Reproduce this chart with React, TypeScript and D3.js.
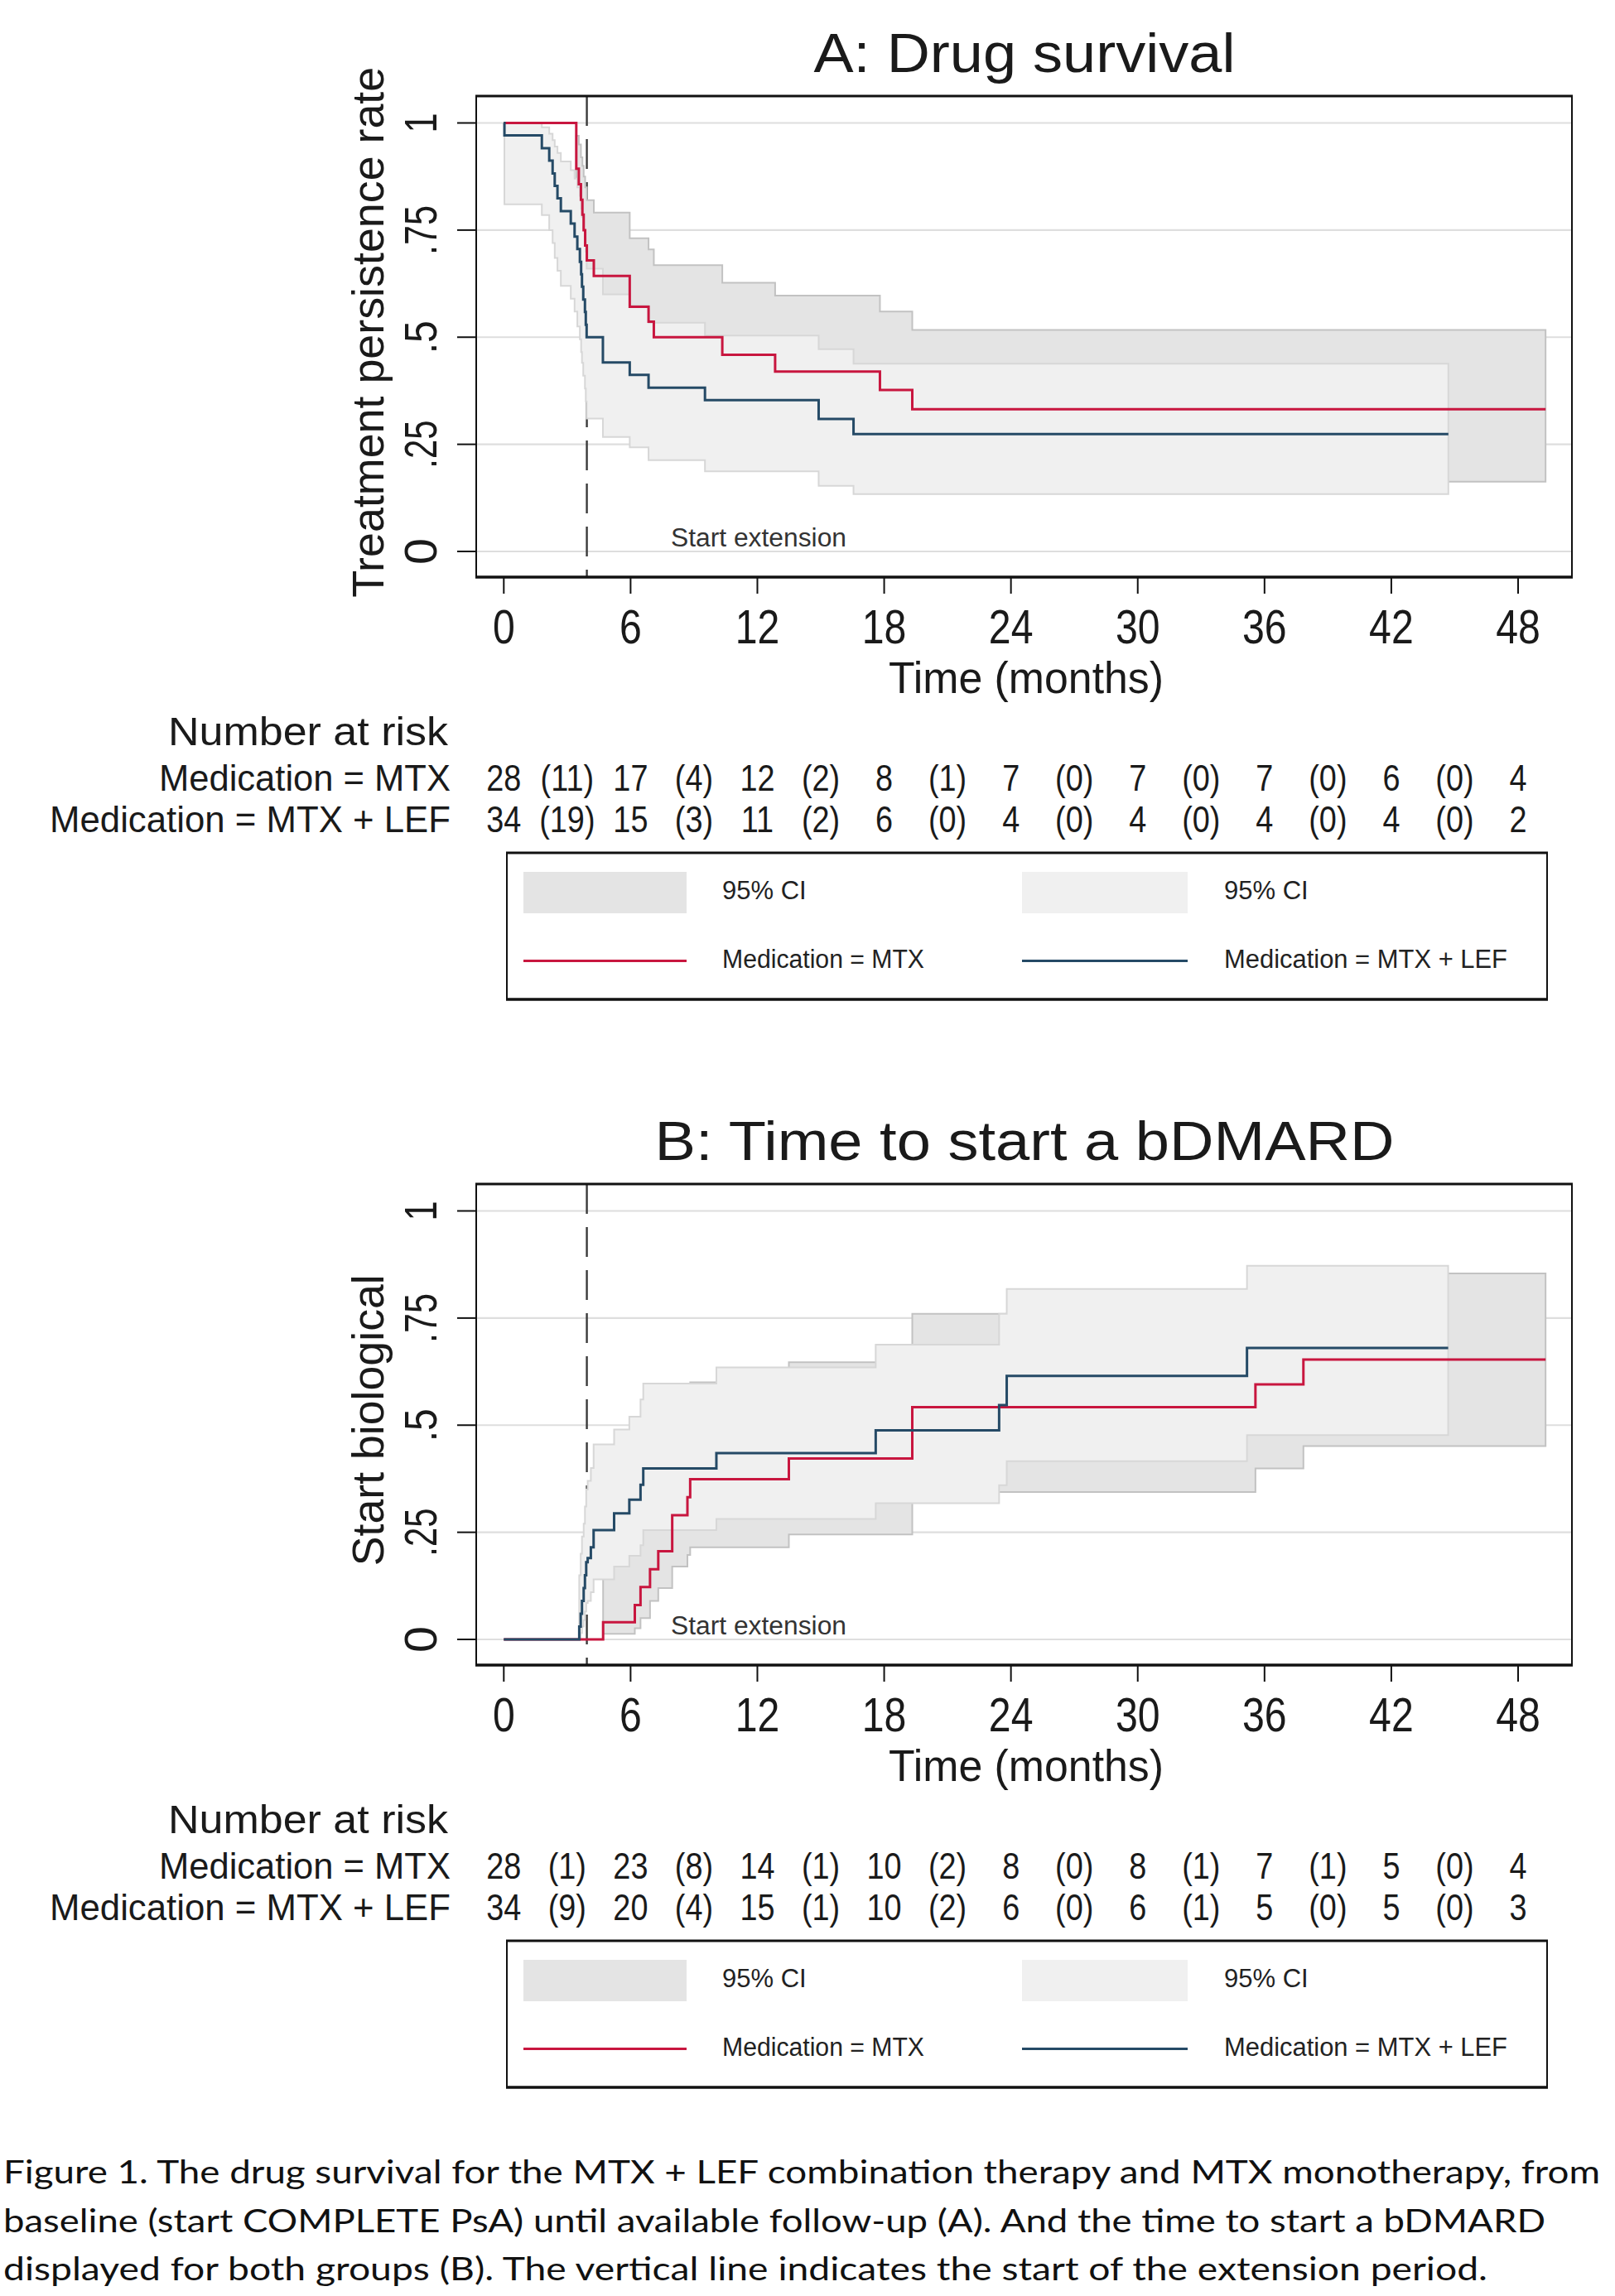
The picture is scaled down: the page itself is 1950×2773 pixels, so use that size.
import React from 'react';
import * as d3 from 'd3';

// ---------- shared axis data ----------
const TICKS_X = [0, 6, 12, 18, 24, 30, 36, 42, 48];
const TICKS_Y = [0, 0.25, 0.5, 0.75, 1];
const TICK_Y_LABELS = ['0', '.25', '.5', '.75', '1'];
const EXT_MONTH = 3.93;

// ---------- Panel A: drug survival (KM) ----------
const aMtxT = [0, 3.43, 3.55, 3.65, 3.72, 3.78, 3.85, 3.93, 4.26, 5.96, 6.85, 7.1, 10.34, 12.84, 17.8, 19.33, 49.3];
const aMtxS = [1, 0.893, 0.857, 0.821, 0.786, 0.75, 0.714, 0.679, 0.643, 0.571, 0.536, 0.5, 0.459, 0.42, 0.377, 0.332, 0.332];
const aMtxCiT = [3.43, 3.55, 3.65, 3.72, 3.78, 3.85, 3.93, 4.26, 5.96, 6.85, 7.1, 10.34, 12.84, 17.8, 19.33, 49.3];
const aMtxLo = [0.70, 0.66, 0.62, 0.58, 0.55, 0.51, 0.48, 0.44, 0.37, 0.34, 0.31, 0.27, 0.235, 0.20, 0.163, 0.163];
const aMtxHi = [0.97, 0.95, 0.92, 0.90, 0.875, 0.85, 0.82, 0.791, 0.731, 0.705, 0.668, 0.627, 0.597, 0.56, 0.517, 0.517];

const aLefT = [0, 0.03, 1.8, 2.15, 2.31, 2.41, 2.54, 2.7, 3.17, 3.35, 3.48, 3.6, 3.66, 3.7, 3.76, 3.84, 3.88, 3.92, 4.69, 5.96, 6.85, 9.52, 14.9, 16.55, 44.7];
const aLefS = [1, 0.971, 0.941, 0.912, 0.882, 0.853, 0.824, 0.794, 0.765, 0.735, 0.706, 0.676, 0.647, 0.618, 0.588, 0.559, 0.529, 0.5, 0.441, 0.412, 0.382, 0.353, 0.309, 0.274, 0.274];
const aLefCiT = [0.03, 1.8, 2.15, 2.31, 2.41, 2.54, 2.7, 3.17, 3.35, 3.48, 3.6, 3.66, 3.7, 3.76, 3.84, 3.88, 3.92, 4.69, 5.96, 6.85, 9.52, 14.9, 16.55, 44.7];
const aLefLo = [0.81, 0.785, 0.75, 0.72, 0.685, 0.655, 0.62, 0.59, 0.56, 0.525, 0.495, 0.465, 0.44, 0.41, 0.38, 0.35, 0.31, 0.267, 0.243, 0.213, 0.187, 0.153, 0.134, 0.134];
const aLefHi = [1.0, 0.99, 0.975, 0.96, 0.945, 0.93, 0.91, 0.89, 0.87, 0.85, 0.83, 0.80, 0.78, 0.75, 0.73, 0.70, 0.66, 0.60, 0.575, 0.534, 0.504, 0.472, 0.438, 0.438];

// ---------- Panel B: time to start a bDMARD (cumulative) ----------
const bMtxT = [0, 4.7, 6.2, 6.47, 6.92, 7.31, 7.97, 8.69, 8.82, 13.49, 19.33, 35.57, 37.84, 49.3];
const bMtxS = [0, 0.04, 0.08, 0.122, 0.164, 0.206, 0.29, 0.332, 0.374, 0.422, 0.542, 0.595, 0.653, 0.653];
const bMtxCiT = [4.7, 6.2, 6.47, 6.92, 7.31, 7.97, 8.69, 8.82, 13.49, 19.33, 35.57, 37.84, 49.3];
const bMtxLo = [0.013, 0.026, 0.05, 0.09, 0.12, 0.17, 0.197, 0.215, 0.245, 0.344, 0.399, 0.451, 0.451];
const bMtxHi = [0.22, 0.26, 0.30, 0.34, 0.38, 0.47, 0.52, 0.60, 0.647, 0.76, 0.80, 0.854, 0.854];

const bLefT = [0, 3.57, 3.64, 3.7, 3.78, 3.84, 3.9, 3.97, 4.12, 4.25, 5.22, 5.94, 6.47, 6.6, 10.06, 17.6, 23.44, 23.8, 35.17, 44.69];
const bLefS = [0, 0.03, 0.06, 0.09, 0.12, 0.15, 0.18, 0.19, 0.215, 0.255, 0.294, 0.326, 0.361, 0.399, 0.435, 0.488, 0.547, 0.615, 0.68, 0.68];
const bLefCiT = [3.57, 3.64, 3.7, 3.78, 3.84, 3.9, 3.97, 4.12, 4.25, 5.22, 5.94, 6.47, 6.6, 10.06, 17.6, 23.44, 23.8, 35.17, 44.69];
const bLefLo = [0.004, 0.015, 0.03, 0.045, 0.065, 0.085, 0.09, 0.11, 0.14, 0.17, 0.195, 0.22, 0.255, 0.281, 0.318, 0.36, 0.416, 0.477, 0.477];
const bLefHi = [0.15, 0.2, 0.24, 0.27, 0.31, 0.35, 0.37, 0.40, 0.455, 0.49, 0.52, 0.56, 0.597, 0.635, 0.688, 0.76, 0.818, 0.872, 0.872];

// ---------- risk tables ----------
const RISK_LABELS = ['Medication = MTX', 'Medication = MTX + LEF'];
const aRiskMtx = [28, 17, 12, 8, 7, 7, 7, 6, 4];
const aFailMtx = [11, 4, 2, 1, 0, 0, 0, 0];
const aRiskLef = [34, 15, 11, 6, 4, 4, 4, 4, 2];
const aFailLef = [19, 3, 2, 0, 0, 0, 0, 0];
const bRiskMtx = [28, 23, 14, 10, 8, 8, 7, 5, 4];
const bFailMtx = [1, 8, 1, 2, 0, 1, 1, 0];
const bRiskLef = [34, 20, 15, 10, 6, 6, 5, 5, 3];
const bFailLef = [9, 4, 1, 2, 0, 1, 0, 0];

const CAPTION = [
  'Figure 1. The drug survival for the MTX + LEF combination therapy and MTX monotherapy, from',
  'baseline (start COMPLETE PsA) until available follow-up (A). And the time to start a bDMARD',
  'displayed for both groups (B). The vertical line indicates the start of the extension period.',
];

// ---------- styling ----------
const FONT = "'Liberation Sans', Arial, Helvetica, sans-serif";
const RED = '#c8163f';
const BLUE = '#254a66';
const MTX_FILL = '#e4e4e4';
const MTX_EDGE = '#c2c2c2';
const LEF_FILL = '#f0f0f0';
const LEF_EDGE = '#d7d7d7';
const GRID = '#dedede';

const L = 575, R = 1898;
const x = d3.scaleLinear().domain([0, 48]).range([608.3, 1833]);

function stepLine(t: number[], v: number[], y: d3.ScaleLinear<number, number>) {
  return d3.line<number>().x((_, i) => x(t[i])).y(d => y(d)).curve(d3.curveStepAfter)(v) || '';
}
function stepArea(t: number[], lo: number[], hi: number[], y: d3.ScaleLinear<number, number>) {
  return d3.area<number>().x((_, i) => x(t[i])).y0((_, i) => y(lo[i])).y1((_, i) => y(hi[i])).curve(d3.curveStepAfter)(lo) || '';
}

const yLabelLen: Record<string, number> = { '0': 32, '.25': 58, '.5': 40, '.75': 60, '1': 24 };

type PanelProps = {
  dy: number; title: string; titleLen: number; yTitle: string; yTitleLen: number;
  mtxT: number[]; mtxS: number[]; mtxCiT: number[]; mtxLo: number[]; mtxHi: number[];
  lefT: number[]; lefS: number[]; lefCiT: number[]; lefLo: number[]; lefHi: number[];
  riskMtx: number[]; failMtx: number[]; riskLef: number[]; failLef: number[];
};

function Panel(p: PanelProps) {
  const top = 116 + p.dy, bottom = 697 + p.dy;
  const y = d3.scaleLinear().domain([0, 1]).range([666 + p.dy, 148.5 + p.dy]);
  const yMid = (y(0) + y(1)) / 2;
  const rowY = [955 + p.dy, 1005 + p.dy];
  const risks = [[p.riskMtx, p.failMtx], [p.riskLef, p.failLef]];
  const lg = 1030 + p.dy;
  return (
    <g fontFamily={FONT} fill="#1a1a1a">
      {/* title */}
      <text x={1237} y={87 + p.dy} fontSize={66} textAnchor="middle" textLength={p.titleLen} lengthAdjust="spacingAndGlyphs">{p.title}</text>
      {/* gridlines */}
      {TICKS_Y.map(v => (
        <line key={v} x1={L} x2={R} y1={y(v)} y2={y(v)} stroke={GRID} strokeWidth={2.2} />
      ))}
      {/* extension line */}
      <line x1={x(EXT_MONTH)} x2={x(EXT_MONTH)} y1={top} y2={bottom} stroke="#3a3a3a" strokeWidth={2.4} strokeDasharray="36 16" />
      {/* CI bands */}
      <path d={stepArea(p.mtxCiT, p.mtxLo, p.mtxHi, y)} fill={MTX_FILL} stroke={MTX_EDGE} strokeWidth={2} />
      <path d={stepArea(p.lefCiT, p.lefLo, p.lefHi, y)} fill={LEF_FILL} stroke={LEF_EDGE} strokeWidth={2} />
      {/* curves */}
      <path d={stepLine(p.mtxT, p.mtxS, y)} fill="none" stroke={RED} strokeWidth={3} />
      <path d={stepLine(p.lefT, p.lefS, y)} fill="none" stroke={BLUE} strokeWidth={3} />
      <text x={810} y={y(0) - 6} fontSize={31} textLength={212} lengthAdjust="spacingAndGlyphs" fill="#333">Start extension</text>
      {/* frame */}
      <line x1={L} x2={L} y1={top} y2={bottom} stroke="#111" strokeWidth={2} />
      <line x1={R} x2={R} y1={top} y2={bottom} stroke="#111" strokeWidth={2} />
      <line x1={L - 1} x2={R + 1} y1={top} y2={top} stroke="#111" strokeWidth={3} />
      <line x1={L - 1} x2={R + 1} y1={bottom} y2={bottom} stroke="#111" strokeWidth={3.5} />
      {/* y axis */}
      {TICKS_Y.map((v, i) => (
        <g key={v}>
          <line x1={552} x2={L} y1={y(v)} y2={y(v)} stroke="#111" strokeWidth={2} />
          <text transform={`translate(527,${y(v)}) rotate(-90)`} fontSize={56} textAnchor="middle"
            textLength={yLabelLen[TICK_Y_LABELS[i]]} lengthAdjust="spacingAndGlyphs">{TICK_Y_LABELS[i]}</text>
        </g>
      ))}
      <text transform={`translate(463,${yMid - 6}) rotate(-90)`} fontSize={54} textAnchor="middle"
        textLength={p.yTitleLen} lengthAdjust="spacingAndGlyphs">{p.yTitle}</text>
      {/* x axis */}
      {TICKS_X.map(t => (
        <g key={t}>
          <line x1={x(t)} x2={x(t)} y1={bottom} y2={bottom + 20} stroke="#111" strokeWidth={2} />
          <text x={x(t)} y={777 + p.dy} fontSize={57} textAnchor="middle"
            textLength={String(t).length * 26.8} lengthAdjust="spacingAndGlyphs">{t}</text>
        </g>
      ))}
      <text x={1239} y={837 + p.dy} fontSize={53} textAnchor="middle" textLength={332} lengthAdjust="spacingAndGlyphs">Time (months)</text>
      {/* risk table */}
      <text x={541} y={900 + p.dy} fontSize={48} textAnchor="end" textLength={338} lengthAdjust="spacingAndGlyphs">Number at risk</text>
      {risks.map(([n, f], r) => (
        <g key={r}>
          <text x={544} y={rowY[r]} fontSize={44} textAnchor="end" textLength={r === 0 ? 352 : 484} lengthAdjust="spacingAndGlyphs">{RISK_LABELS[r]}</text>
          {n.map((v, i) => (
            <g key={'n' + i} transform={`translate(${x(TICKS_X[i])},${rowY[r]}) scale(0.86,1)`}>
              <text fontSize={44} textAnchor="middle">{v}</text>
            </g>
          ))}
          {f.map((v, i) => (
            <g key={'f' + i} transform={`translate(${x(TICKS_X[i] + 3)},${rowY[r]}) scale(0.86,1)`}>
              <text fontSize={44} textAnchor="middle">({v})</text>
            </g>
          ))}
        </g>
      ))}
      {/* legend */}
      <rect x={612} y={lg} width={1256} height={177} fill="white" stroke="#111" strokeWidth={2} />
      <line x1={611} x2={1869} y1={lg} y2={lg} stroke="#111" strokeWidth={3} />
      <line x1={611} x2={1869} y1={lg + 177} y2={lg + 177} stroke="#111" strokeWidth={3.5} />
      <rect x={632} y={lg + 23} width={197} height={50} fill={MTX_FILL} />
      <rect x={1234} y={lg + 23} width={200} height={50} fill={LEF_FILL} />
      <text x={872} y={lg + 56} fontSize={31} fill="#222">95% CI</text>
      <text x={1478} y={lg + 56} fontSize={31} fill="#222">95% CI</text>
      <line x1={632} x2={829} y1={lg + 130.5} y2={lg + 130.5} stroke={RED} strokeWidth={3} />
      <line x1={1234} x2={1434} y1={lg + 130.5} y2={lg + 130.5} stroke={BLUE} strokeWidth={3} />
      <text x={872} y={lg + 139} fontSize={31} fill="#222" textLength={244} lengthAdjust="spacingAndGlyphs">{RISK_LABELS[0]}</text>
      <text x={1478} y={lg + 139} fontSize={31} fill="#222" textLength={342} lengthAdjust="spacingAndGlyphs">{RISK_LABELS[1]}</text>
    </g>
  );
}

export default function App() {
  return (
    <svg width={1950} height={2773} viewBox="0 0 1950 2773"
      style={{ position: 'absolute', left: 0, top: 0, display: 'block', background: 'white' }}>
      <rect x={0} y={0} width={1950} height={2773} fill="white" />
      <Panel dy={0} title="A: Drug survival" titleLen={509} yTitle="Treatment persistence rate" yTitleLen={641}
        mtxT={aMtxT} mtxS={aMtxS} mtxCiT={aMtxCiT} mtxLo={aMtxLo} mtxHi={aMtxHi}
        lefT={aLefT} lefS={aLefS} lefCiT={aLefCiT} lefLo={aLefLo} lefHi={aLefHi}
        riskMtx={aRiskMtx} failMtx={aFailMtx} riskLef={aRiskLef} failLef={aFailLef} />
      <Panel dy={1314} title="B: Time to start a bDMARD" titleLen={893} yTitle="Start biological" yTitleLen={352}
        mtxT={bMtxT} mtxS={bMtxS} mtxCiT={bMtxCiT} mtxLo={bMtxLo} mtxHi={bMtxHi}
        lefT={bLefT} lefS={bLefS} lefCiT={bLefCiT} lefLo={bLefLo} lefHi={bLefHi}
        riskMtx={bRiskMtx} failMtx={bFailMtx} riskLef={bRiskLef} failLef={bFailLef} />
      <g fontFamily="Lato, 'Open Sans', sans-serif" fill="#111" fontSize={38}>
        {CAPTION.map((line, i) => (
          <text key={i} x={4} y={[2637, 2696, 2754][i]} textLength={[1928, 1862, 1792][i]} lengthAdjust="spacingAndGlyphs">{line}</text>
        ))}
      </g>
    </svg>
  );
}
